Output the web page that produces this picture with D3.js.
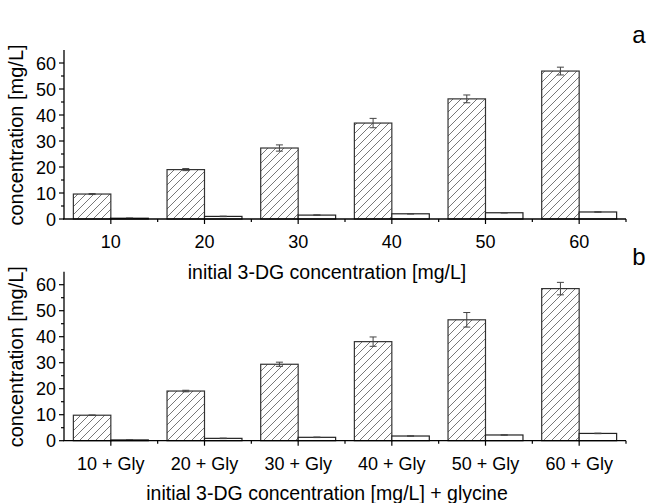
<!DOCTYPE html>
<html><head><meta charset="utf-8">
<script src="https://cdn.jsdelivr.net/npm/d3@7"></script>
<style>
body{margin:0;background:#fff;}
text{font-family:"Liberation Sans",Arial,sans-serif;fill:#000;}
</style></head>
<body><svg id="c" width="654" height="503"></svg>
<script>
const categoriesA = ["10","20","30","40","50","60"];
const categoriesB = ["10 + Gly","20 + Gly","30 + Gly","40 + Gly","50 + Gly","60 + Gly"];
const hatchA = [9.6, 19.0, 27.3, 36.9, 46.2, 56.9];
const hatchAErr = [0.2, 0.4, 1.2, 1.8, 1.5, 1.5];
const whiteA = [0.3, 1.0, 1.5, 2.0, 2.4, 2.7];
const whiteAErr = [0.05, 0.1, 0.1, 0.1, 0.1, 0.1];
const hatchB = [9.8, 19.1, 29.4, 38.1, 46.5, 58.5];
const hatchBErr = [0.1, 0.3, 0.8, 1.8, 2.8, 2.4];
const whiteB = [0.3, 0.9, 1.3, 1.8, 2.2, 2.8];
const whiteBErr = [0.05, 0.1, 0.1, 0.1, 0.1, 0.1];
const yTicks = [0,10,20,30,40,50,60];
const yTitle = "concentration [mg/L]";
const xTitleA = "initial 3-DG concentration [mg/L]";
const xTitleB = "initial 3-DG concentration [mg/L] + glycine";

const svg = d3.select("#c");
const defs = svg.append("defs");
const pat = defs.append("pattern").attr("id","hatch").attr("patternUnits","userSpaceOnUse")
  .attr("width",8).attr("height",8);
pat.append("path").attr("d","M-2,2 L2,-2 M0,8 L8,0 M6,10 L10,6")
  .attr("stroke","#555").attr("stroke-width",0.8);

function panel(cats, hv, he, wv, we, y0, xTitle, titleSize, letter, letterY, tickY, titleY){
  const x = d3.scaleBand().domain(cats).range([64,626]).paddingInner(0.2).paddingOuter(0.1);
  const sub = d3.scaleBand().domain(["h","w"]).range([0,x.bandwidth()]);
  const y = d3.scaleLinear().domain([0,65]).range([y0, y0-169]);
  const g = svg.append("g");
  const rows = cats.map((c,i)=>({c, h:hv[i], he:he[i], w:wv[i], we:we[i]}));
  g.selectAll(".hb").data(rows).join("rect")
    .attr("x",d=>x(d.c)+sub("h")).attr("width",sub.bandwidth())
    .attr("y",d=>y(d.h)).attr("height",d=>y(0)-y(d.h))
    .attr("fill","url(#hatch)").attr("stroke","#333").attr("stroke-width",1.2);
  g.selectAll(".wb").data(rows).join("rect")
    .attr("x",d=>x(d.c)+sub("w")).attr("width",sub.bandwidth())
    .attr("y",d=>y(d.w)).attr("height",d=>y(0)-y(d.w))
    .attr("fill","#fff").attr("stroke","#222").attr("stroke-width",1.2);
  const eb = [];
  rows.forEach(d=>{
    eb.push({cx:x(d.c)+sub("h")+sub.bandwidth()/2, v:d.h, e:d.he});
    eb.push({cx:x(d.c)+sub("w")+sub.bandwidth()/2, v:d.w, e:d.we});
  });
  const ge = g.selectAll(".eb").data(eb).join("g").attr("stroke","#444").attr("stroke-width",1);
  ge.append("line").attr("x1",d=>d.cx).attr("x2",d=>d.cx).attr("y1",d=>y(d.v+d.e)).attr("y2",d=>y(d.v-d.e));
  ge.append("line").attr("x1",d=>d.cx-3.5).attr("x2",d=>d.cx+3.5).attr("y1",d=>y(d.v+d.e)).attr("y2",d=>y(d.v+d.e));
  ge.append("line").attr("x1",d=>d.cx-3.5).attr("x2",d=>d.cx+3.5).attr("y1",d=>y(d.v-d.e)).attr("y2",d=>y(d.v-d.e));

  const ya = g.append("g").attr("transform","translate(64,0)");
  ya.append("line").attr("x1",0).attr("x2",0).attr("y1",y(0)).attr("y2",y(65)).attr("stroke","#000").attr("stroke-width",1.3);
  const minor = d3.range(5,65,10);
  ya.selectAll(".ymaj").data(yTicks).join("line").attr("x1",-5).attr("x2",0)
    .attr("y1",d=>y(d)).attr("y2",d=>y(d)).attr("stroke","#000").attr("stroke-width",1.2);
  ya.selectAll(".ymin").data(minor).join("line").attr("x1",-3).attr("x2",0)
    .attr("y1",d=>y(d)).attr("y2",d=>y(d)).attr("stroke","#000").attr("stroke-width",1.2);
  ya.selectAll(".ylab").data(yTicks).join("text").attr("x",-8).attr("y",d=>y(d)+6.5)
    .attr("text-anchor","end").attr("font-size",18).text(d=>d);
  const xa = g.append("g");
  xa.append("line").attr("x1",63).attr("x2",626).attr("y1",y(0)).attr("y2",y(0)).attr("stroke","#000").attr("stroke-width",1.3);
  xa.selectAll(".xmaj").data(cats).join("line")
    .attr("x1",d=>x(d)+x.bandwidth()/2).attr("x2",d=>x(d)+x.bandwidth()/2)
    .attr("y1",y(0)).attr("y2",y(0)+5).attr("stroke","#000").attr("stroke-width",1.2);
  const bounds = cats.slice(1).map(d=>x(d)-x.step()*x.paddingInner()/2);
  bounds.push(626);
  xa.selectAll(".xmin").data(bounds).join("line")
    .attr("x1",d=>d).attr("x2",d=>d).attr("y1",y(0)).attr("y2",y(0)+3).attr("stroke","#000").attr("stroke-width",1.2);
  xa.selectAll(".xlab").data(cats).join("text").attr("x",d=>x(d)+x.bandwidth()/2).attr("y",tickY)
    .attr("text-anchor","middle").attr("font-size",18).text(d=>d);
  g.append("text").attr("x",327).attr("y",titleY).attr("text-anchor","middle").attr("font-size",titleSize).text(xTitle);
  g.append("text").attr("transform",`translate(23,${y(0)-84}) rotate(-90)`).attr("text-anchor","middle")
    .attr("font-size",20).text(yTitle);
  g.append("text").attr("x",639).attr("y",letterY).attr("text-anchor","middle").attr("font-size",24).text(letter);
}
panel(categoriesA, hatchA, hatchAErr, whiteA, whiteAErr, 219, xTitleA, 19.5, "a", 43, 248, 279);
panel(categoriesB, hatchB, hatchBErr, whiteB, whiteBErr, 440.7, xTitleB, 19.5, "b", 265, 470, 500);
</script></body></html>
